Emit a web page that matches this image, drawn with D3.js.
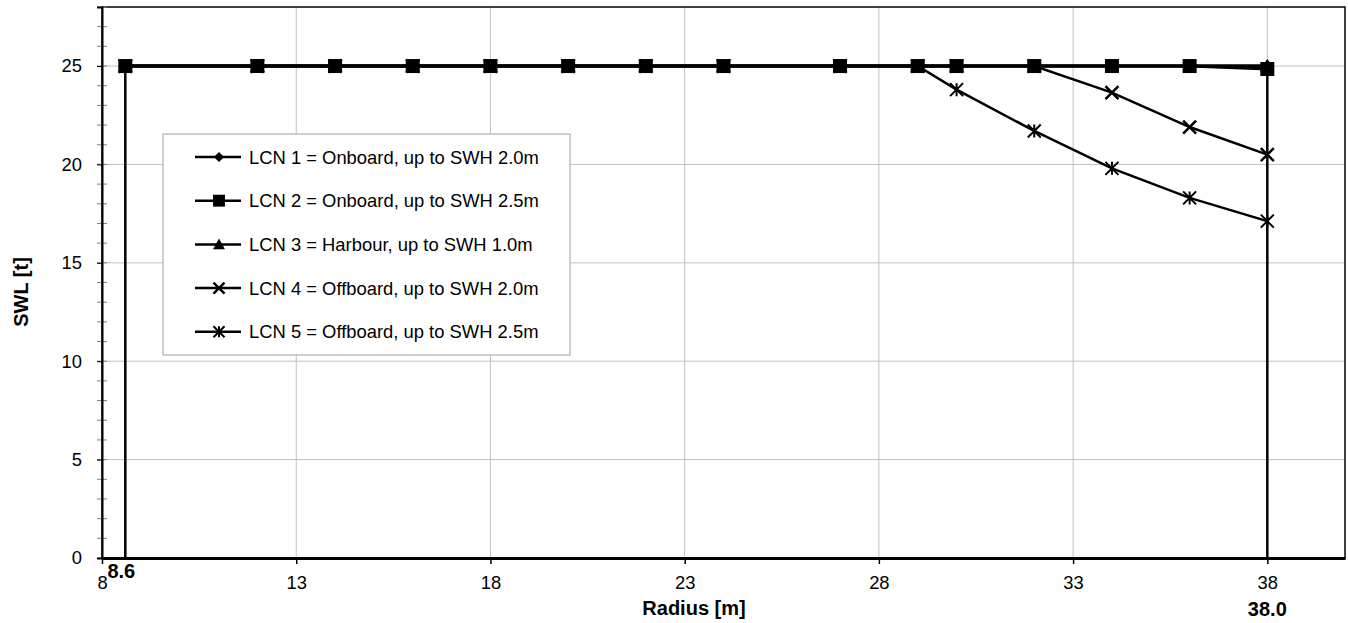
<!DOCTYPE html>
<html>
<head>
<meta charset="utf-8">
<script src="https://cdn.jsdelivr.net/npm/d3@7"></script>
<style>
  html, body { margin: 0; padding: 0; background: #fff; }
  svg { display: block; font-family: "Liberation Sans", Arial, sans-serif; }
</style>
</head>
<body>
<svg id="chart" width="1348" height="623"></svg>
<script>
// ---- data ----
const radius = [8.6, 12, 14, 16, 18, 20, 22, 24, 27, 29, 30, 32, 34, 36, 38];
const lcn1 = [25, 25, 25, 25, 25, 25, 25, 25, 25, 25, 25, 25, 25, 25, 25];
const lcn2 = [25, 25, 25, 25, 25, 25, 25, 25, 25, 25, 25, 25, 25, 25, 24.85];
const lcn3 = [25, 25, 25, 25, 25, 25, 25, 25, 25, 25, 25, 25, 25, 25, 25];
const lcn4 = [25, 25, 25, 25, 25, 25, 25, 25, 25, 25, 25, 25, 23.65, 21.9, 20.5];
const lcn5 = [25, 25, 25, 25, 25, 25, 25, 25, 25, 25, 23.8, 21.7, 19.8, 18.3, 17.12];
const seriesNames = [
  "LCN 1 = Onboard, up to SWH 2.0m",
  "LCN 2 = Onboard, up to SWH 2.5m",
  "LCN 3 = Harbour, up to SWH 1.0m",
  "LCN 4 = Offboard, up to SWH 2.0m",
  "LCN 5 = Offboard, up to SWH 2.5m"
];
const markerTypes = ["diamond", "square", "triangle", "x", "asterisk"];
const xTicks = [8, 13, 18, 23, 28, 33, 38];
const yTicks = [0, 5, 10, 15, 20, 25];
const yMinorTicks = d3.range(0, 29, 1);
const limitRadii = [8.6, 38.0];
const limitTop = [25, 25];
const limitLabels = ["8.6", "38.0"];

// ---- layout ----
const FS = 18.4, FB = 20;
const svg = d3.select("#chart");
const L = 102, R = 1345, T = 7, B = 558;
const x = d3.scaleLinear().domain([8, 40]).range([L, R]);
const y = d3.scaleLinear().domain([0, 28]).range([B, T]);

// grid
svg.append("g").selectAll("line").data(yTicks.filter(d => d > 0)).join("line")
  .attr("x1", L).attr("x2", R).attr("y1", d => y(d)).attr("y2", d => y(d))
  .attr("stroke", "#c0c0c0").attr("stroke-width", 1);
svg.append("g").selectAll("line").data(xTicks.filter(d => d > 8)).join("line")
  .attr("y1", T).attr("y2", B).attr("x1", d => x(d)).attr("x2", d => x(d))
  .attr("stroke", "#c0c0c0").attr("stroke-width", 1);

// frame
svg.append("rect").attr("x", L).attr("y", T).attr("width", R - L).attr("height", B - T)
  .attr("fill", "none").attr("stroke", "#000").attr("stroke-width", 1.5);

// y minor ticks
svg.append("g").selectAll("line").data(yMinorTicks).join("line")
  .attr("x1", L - 5).attr("x2", L + 5).attr("y1", d => y(d)).attr("y2", d => y(d))
  .attr("stroke", "#808080").attr("stroke-width", 1);

// y axis
const yAxis = svg.append("g").attr("transform", `translate(${L},0)`)
  .call(d3.axisLeft(y).tickValues(yTicks).tickSize(5).tickPadding(15));
yAxis.select(".domain").attr("stroke", "#000").attr("stroke-width", 2);
yAxis.selectAll(".tick line").attr("stroke", "#000");
yAxis.selectAll("text").attr("font-size", FS).attr("fill", "#000")
  .attr("font-family", "Liberation Sans, Arial, sans-serif");

// x axis
const xAxis = svg.append("g").attr("transform", `translate(0,${B})`)
  .call(d3.axisBottom(x).tickValues(xTicks).tickSize(6).tickPadding(12).tickSizeOuter(0));
xAxis.select(".domain").attr("stroke", "#000").attr("stroke-width", 3);
xAxis.selectAll(".tick line").attr("stroke", "#000").attr("stroke-width", 1.5);
xAxis.selectAll("text").attr("font-size", FS).attr("fill", "#000")
  .attr("font-family", "Liberation Sans, Arial, sans-serif");

// axis titles
svg.append("text").attr("x", 694).attr("y", 615).attr("text-anchor", "middle")
  .attr("font-size", FB).attr("font-weight", "bold").text("Radius [m]");
svg.append("text").attr("transform", `translate(28,292) rotate(-90)`)
  .attr("text-anchor", "middle").attr("font-size", FB).attr("font-weight", "bold").text("SWL [t]");

// limit lines
svg.append("g").selectAll("line").data(limitRadii).join("line")
  .attr("x1", d => x(d)).attr("x2", d => x(d))
  .attr("y1", y(0)).attr("y2", (d, i) => y(limitTop[i]))
  .attr("stroke", "#000").attr("stroke-width", 2.5);
svg.append("text").attr("x", x(limitRadii[0]) - 4).attr("y", 578).attr("text-anchor", "middle")
  .attr("font-size", FB).attr("font-weight", "bold").text(limitLabels[0]);
svg.append("text").attr("x", x(limitRadii[1])).attr("y", 616).attr("text-anchor", "middle")
  .attr("font-size", FB).attr("font-weight", "bold").text(limitLabels[1]);

// markers
function drawMarker(g, type, cx, cy, scale) {
  const s = scale || 1;
  if (type === "diamond") {
    const h = 6 * s;
    g.append("path").attr("d", `M${cx},${cy - h}L${cx + h},${cy}L${cx},${cy + h}L${cx - h},${cy}Z`).attr("fill", "#000");
  } else if (type === "square") {
    const h = 7 * s;
    g.append("rect").attr("x", cx - h).attr("y", cy - h).attr("width", 2 * h).attr("height", 2 * h).attr("fill", "#000");
  } else if (type === "triangle") {
    const h = 7 * s;
    g.append("path").attr("d", `M${cx},${cy - h}L${cx + h},${cy + h * 0.8}L${cx - h},${cy + h * 0.8}Z`).attr("fill", "#000");
  } else if (type === "x") {
    const h = 6.5 * s;
    g.append("path").attr("d", `M${cx - h},${cy - h}L${cx + h},${cy + h}M${cx + h},${cy - h}L${cx - h},${cy + h}`)
      .attr("stroke", "#000").attr("stroke-width", 2.5);
  } else if (type === "asterisk") {
    const h = 6.5 * s;
    g.append("path").attr("d", `M${cx - h},${cy - h}L${cx + h},${cy + h}M${cx + h},${cy - h}L${cx - h},${cy + h}M${cx},${cy - h}L${cx},${cy + h}`)
      .attr("stroke", "#000").attr("stroke-width", 2);
  }
}

const allSeries = [lcn1, lcn2, lcn3, lcn4, lcn5];
const line = d3.line().x(d => x(d[0])).y(d => y(d[1]));
const drawOrder = [4, 3, 2, 0, 1];
const linesG = svg.append("g");
drawOrder.forEach(si => {
  const pts = radius.map((r, i) => [r, allSeries[si][i]]);
  linesG.append("path").attr("d", line(pts)).attr("fill", "none")
    .attr("stroke", "#000").attr("stroke-width", si >= 3 ? 2.5 : 3);
});
const markG = svg.append("g");
drawOrder.forEach(si => {
  radius.forEach((r, i) => drawMarker(markG, markerTypes[si], x(r), y(allSeries[si][i])));
});
// triangle tip peeking on top at last point
drawMarker(markG, "triangle", x(radius[radius.length - 1]), y(lcn3[lcn3.length - 1]));

// legend
const lg = svg.append("g");
lg.append("rect").attr("x", 163).attr("y", 134).attr("width", 407).attr("height", 221)
  .attr("fill", "#fff").attr("stroke", "#a0a0a0").attr("stroke-width", 1);
seriesNames.forEach((name, i) => {
  const cy = 157 + i * 43.7;
  lg.append("line").attr("x1", 195).attr("x2", 241).attr("y1", cy).attr("y2", cy)
    .attr("stroke", "#000").attr("stroke-width", 2.5);
  drawMarker(lg, markerTypes[i], 219, cy, 0.85);
  lg.append("text").attr("x", 249).attr("y", cy + 6.5).attr("font-size", FS).text(name);
});
</script>
</body>
</html>
